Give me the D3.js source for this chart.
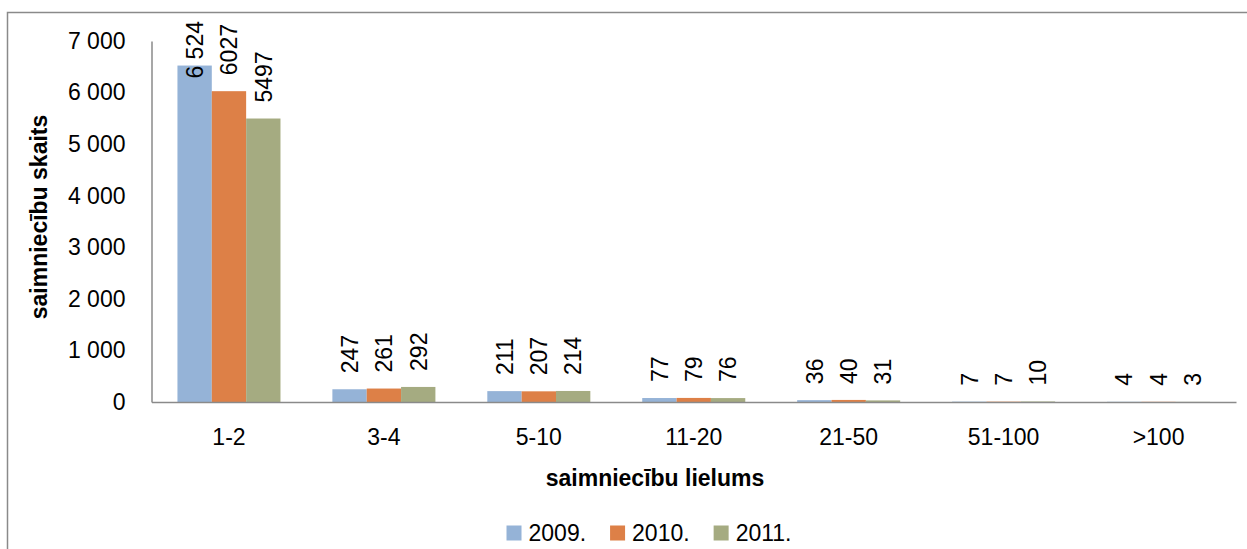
<!DOCTYPE html>
<html><head><meta charset="utf-8">
<script src="https://cdn.jsdelivr.net/npm/d3@7"></script>
<style>
body{margin:0;background:#fff}
svg{display:block}
text{font-family:"Liberation Sans",Arial,sans-serif;fill:#000}
</style>
</head><body>
<svg id="c" width="1247" height="549"></svg>
<script>
const categories = ["1-2","3-4","5-10","11-20","21-50","51-100",">100"];
const seriesNames = ["2009.","2010.","2011."];
const values2009 = [6524,247,211,77,36,7,4];
const values2010 = [6027,261,207,79,40,7,4];
const values2011 = [5497,292,214,76,31,10,3];
const yTicks = [0,1000,2000,3000,4000,5000,6000,7000];
const colors = ["#95B3D7","#DD8047","#A5AB81"];
const yTitle = "saimniecību skaits";
const xTitle = "saimniecību lielums";

const series = [values2009, values2010, values2011];
const loc = d3.formatLocale({decimal:",", thousands:" ", grouping:[3], currency:["",""]});
const fmtGrouped = loc.format(",d");
const fmtPlain = d3.format("d");
const labelFormats = [fmtGrouped, fmtPlain, fmtPlain];
const FS = "23px";

const svg = d3.select("#c");
const L = 151.5, R = 1236, T = 41, B = 402;

// outer chart border (extends past the picture)
svg.append("rect").attr("x",7.5).attr("y",12.5).attr("width",1400).attr("height",700)
  .attr("fill","none").attr("stroke","#8a8a8a").attr("stroke-width",1.5);

const x0 = d3.scaleBand().domain(categories).range([L,R]).paddingInner(0.335).paddingOuter(0.1675);
const x1 = d3.scaleBand().domain(seriesNames).range([0,x0.bandwidth()]);
const y = d3.scaleLinear().domain([0,7000]).range([B,T]);

// bars
const g = svg.append("g");
seriesNames.forEach((s,si)=>{
  g.selectAll(null).data(categories).enter().append("rect")
    .attr("x",c=>x0(c)+x1(s))
    .attr("y",(c,i)=>y(series[si][i]))
    .attr("width",x1.bandwidth())
    .attr("height",(c,i)=>B-y(series[si][i]))
    .attr("fill",colors[si]);
});

// axes
const yAxis = svg.append("g").attr("transform",`translate(${L},0)`)
  .call(d3.axisLeft(y).tickValues(yTicks).tickSize(0).tickSizeOuter(0).tickPadding(26).tickFormat(fmtGrouped));
yAxis.select(".domain").attr("stroke","#8a8a8a").attr("stroke-width",1.5);
yAxis.selectAll("text").style("font-size",FS).attr("font-family",null);

const xAxis = svg.append("g").attr("transform",`translate(0,${B})`)
  .call(d3.axisBottom(x0).tickSize(0).tickSizeOuter(0).tickPadding(26.5));
xAxis.select(".domain").attr("stroke","#8a8a8a").attr("stroke-width",1.5);
xAxis.selectAll("text").style("font-size",FS).attr("font-family",null);

// data labels (rotated)
seriesNames.forEach((s,si)=>{
  categories.forEach((c,i)=>{
    const v = series[si][i];
    const cx = x0(c)+x1(s)+x1.bandwidth()/2;
    const t = svg.append("text").text(labelFormats[si](v))
      .style("font-size",FS).attr("dy","0.36em");
    const len = t.node().getComputedTextLength();
    let start = y(v) - 16;
    if (start - len < 21) start = 21 + len;
    t.attr("transform",`translate(${cx},${start}) rotate(-90)`);
  });
});

// axis titles
svg.append("text").text(yTitle).attr("text-anchor","middle")
  .attr("transform","translate(47,217) rotate(-90)")
  .style("font-size","23px").style("font-weight","bold");
svg.append("text").text(xTitle).attr("text-anchor","middle")
  .attr("x",655).attr("y",486)
  .style("font-size","23px").style("font-weight","bold");

// legend
const lg = svg.append("g");
let widths = [];
const items = seriesNames.map((s,si)=>{
  const it = lg.append("g");
  it.append("rect").attr("width",15).attr("height",15).attr("y",525.5).attr("fill",colors[si]);
  const tx = it.append("text").text(s).attr("x",22).attr("y",541).style("font-size",FS);
  widths.push(22 + tx.node().getComputedTextLength());
  return it;
});
const gap = 24;
const total = d3.sum(widths) + gap*(widths.length-1);
let xx = 649 - total/2;
items.forEach((it,i)=>{ it.attr("transform",`translate(${xx},0)`); xx += widths[i]+gap; });
</script>
</body></html>
